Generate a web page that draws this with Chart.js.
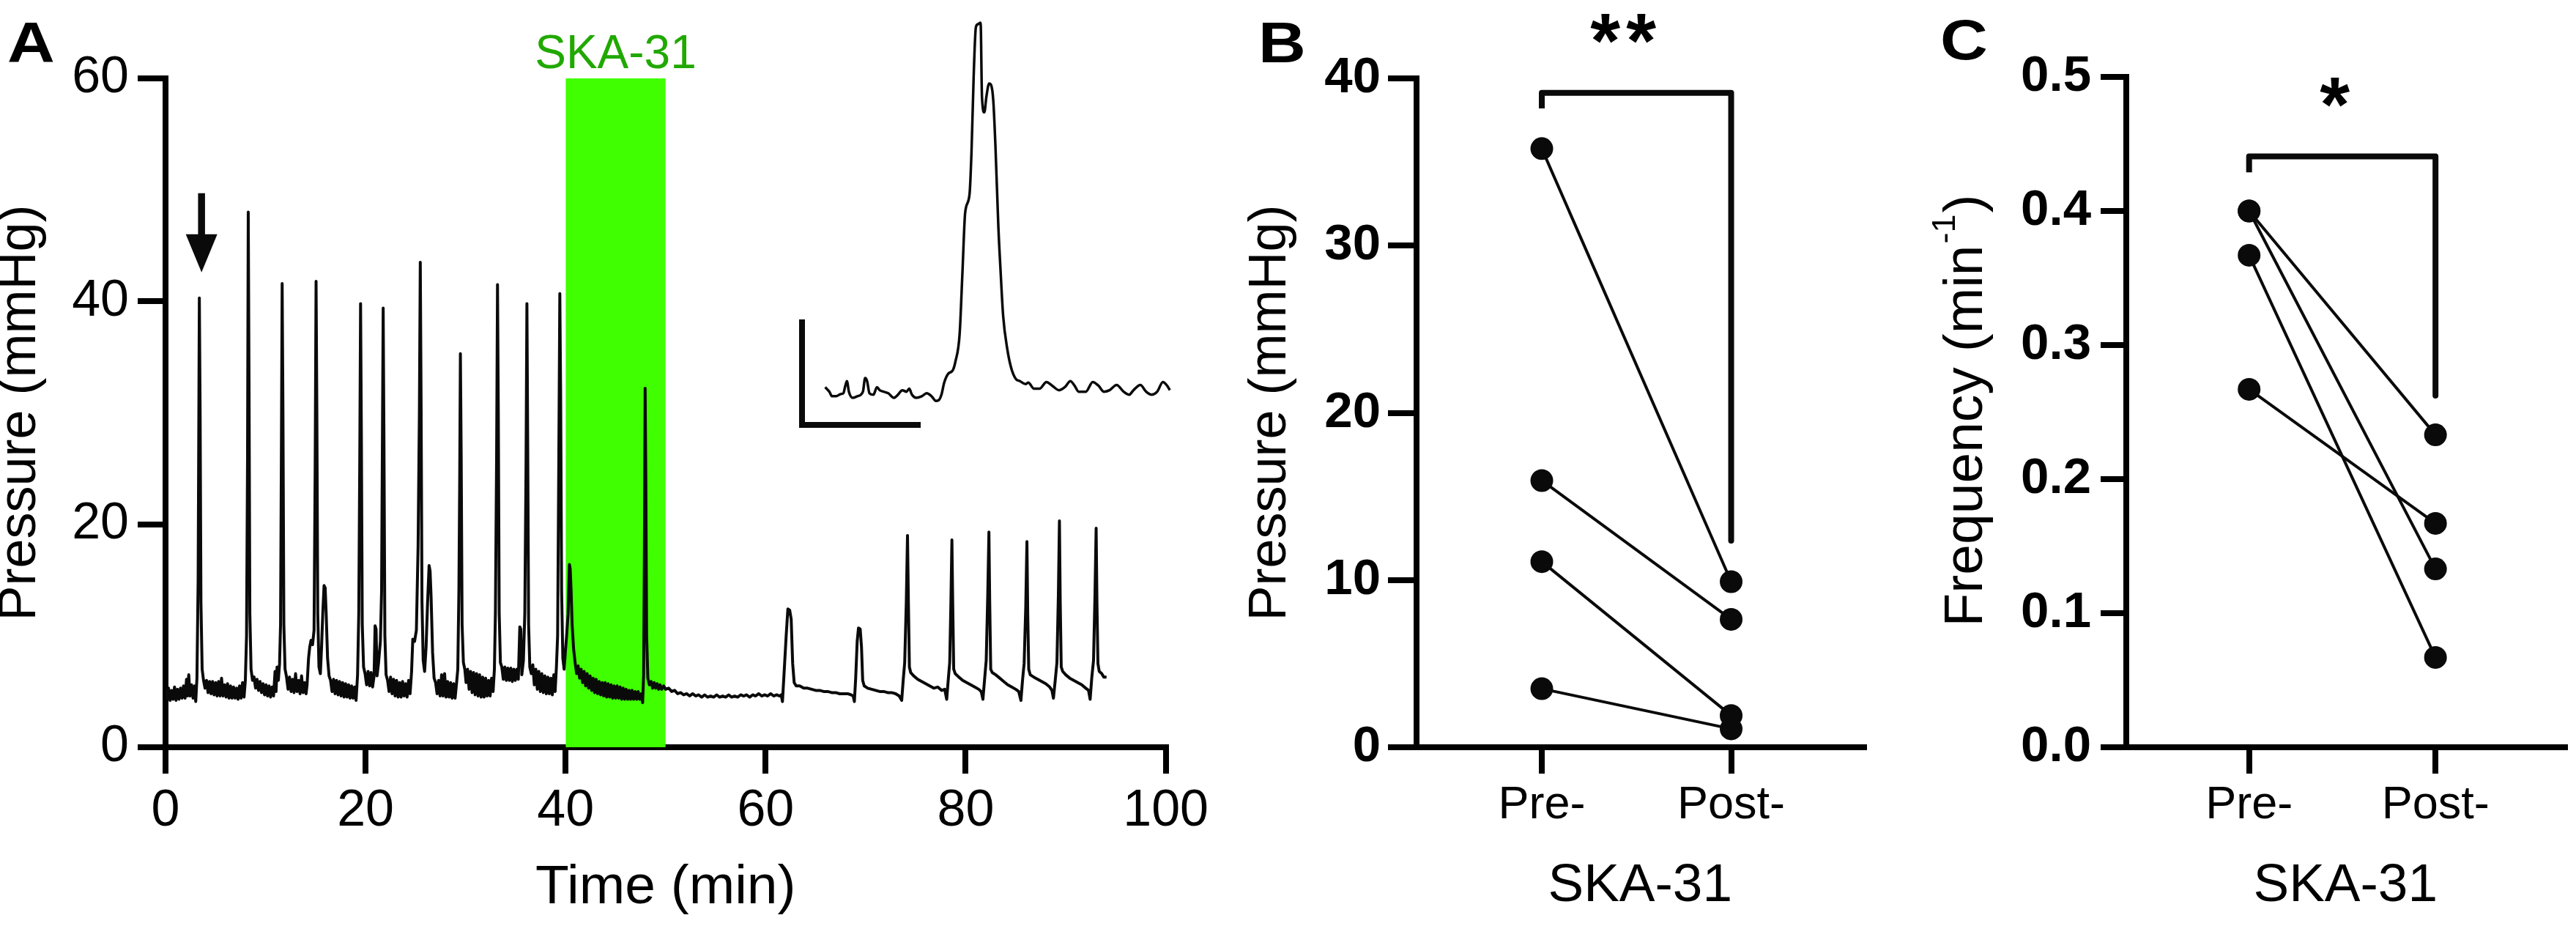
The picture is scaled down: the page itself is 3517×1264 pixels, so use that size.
<!DOCTYPE html>
<html><head><meta charset="utf-8">
<script src="https://cdn.jsdelivr.net/npm/chart.js@4/dist/chart.umd.min.js"></script>
<style>
html,body{margin:0;padding:0;background:#fff;}
#wrap{position:relative;width:3517px;height:1264px;overflow:hidden;background:#fff;}
canvas{position:absolute;}
</style></head><body>
<div id="wrap">
<canvas id="cA" width="1660" height="1264" style="left:0px;top:0px"></canvas>
<canvas id="cInset" width="530" height="584" style="left:1080px;top:16px"></canvas>
<canvas id="cB" width="910" height="1264" style="left:1650px;top:0px"></canvas>
<canvas id="cC" width="957" height="1264" style="left:2560px;top:0px"></canvas>
</div>
<script>
// ---------------- DATA ----------------
// Panel A: pressure trace [time (min), pressure (mmHg)]
const pressureTrace = [
[0,5.2],[0.15,4.3],[0.3,5.3],[0.45,4.2],[0.6,5.1],[0.75,4.3],[0.9,5.4],[1.05,4.2],[1.2,5.2],[1.35,4.3],[1.5,5.3],[1.65,4.4],[1.8,5.5],[1.95,4.4],[2.1,6.1],[2.2,4.6],[2.32,6.5],[2.45,4.6],[2.6,5.6],[2.75,4.4],[2.9,5.5],[3.02,4.1],
[3.14,6.2],[3.26,15],[3.38,40.3],[3.46,30],[3.54,13],[3.66,7.0],[3.8,6.0],
[3.95,5.3],[4.1,6.0],[4.25,4.9],[4.4,5.9],[4.55,4.8],[4.7,5.9],[4.85,4.7],[5.0,5.8],[5.15,4.6],[5.3,5.9],[5.45,4.6],[5.6,6.2],[5.75,4.6],[5.9,5.6],[6.05,4.5],[6.2,5.7],[6.35,4.4],[6.5,5.5],[6.65,4.4],[6.8,5.4],[6.95,4.4],[7.1,5.3],[7.25,4.3],[7.4,5.5],[7.55,4.4],[7.7,5.8],[7.85,4.5],
[7.98,6.0],[8.1,10],[8.2,26],[8.27,48.0],[8.35,32],[8.43,12],[8.55,7.0],[8.7,6.0],
[8.85,6.3],[9.0,5.3],[9.15,6.1],[9.3,5.1],[9.45,5.9],[9.6,4.9],[9.75,5.7],[9.9,4.7],[10.05,5.6],[10.2,4.6],[10.35,5.5],[10.5,4.5],[10.65,5.4],[10.8,4.6],[10.95,6.8],[11.05,5.0],[11.15,7.2],[11.28,6.0],
[11.4,7.5],[11.5,11],[11.58,26],[11.66,41.6],[11.74,30],[11.83,11],[11.95,7.0],[12.1,6.3],
[12.25,5.2],[12.4,6.3],[12.55,5.0],[12.7,6.1],[12.85,4.9],[13.0,6.6],[13.15,5.0],[13.3,6.0],[13.45,4.8],[13.6,6.4],[13.75,4.9],[13.9,5.8],[14.05,4.8],[14.15,5.6],[14.3,8.0],[14.42,9.0],[14.55,9.6],[14.7,9.2],
[14.85,10.5],[14.96,25],[15.05,41.8],[15.13,30],[15.22,12],[15.34,7.2],[15.48,6.6],[15.6,9],[15.72,12],[15.85,14.5],[15.96,14.3],[16.06,12],[16.2,8],[16.35,6.4],[16.5,6.0],
[16.65,5.0],[16.8,6.1],[16.95,4.8],[17.1,6.0],[17.25,4.7],[17.4,5.9],[17.55,4.6],[17.7,5.8],[17.85,4.5],[18.0,5.7],[18.15,4.5],[18.3,5.6],[18.45,4.4],[18.6,5.5],[18.75,4.4],[18.9,5.4],[19.05,4.2],
[19.2,6.5],[19.32,12],[19.42,26],[19.5,39.8],[19.58,28],[19.67,11],[19.8,7.2],[19.95,6.6],
[20.1,5.6],[20.25,6.8],[20.4,5.5],[20.55,6.7],[20.7,5.4],[20.85,6.4],[20.95,10.9],[21.05,10.6],[21.15,6.4],[21.3,7.6],
[21.48,9.5],[21.6,14],[21.68,27],[21.76,39.4],[21.84,27],[21.93,10],[22.05,6.5],[22.2,6.0],
[22.35,5.0],[22.5,6.3],[22.65,4.8],[22.8,6.1],[22.95,4.6],[23.1,6.0],[23.25,4.5],[23.4,5.8],[23.55,4.5],[23.7,5.9],[23.85,4.6],[24.0,5.7],[24.15,4.5],[24.3,6.0],[24.45,4.8],[24.6,6.8],[24.72,9.7],[24.9,9.5],
[25.08,10.5],[25.25,18],[25.38,30],[25.47,43.5],[25.55,31],[25.64,13],[25.76,7.8],[25.9,6.8],[26.05,9],[26.2,13],[26.35,16.3],[26.45,15.8],[26.55,13.5],[26.7,8.5],[26.85,6.2],[27.0,5.8],
[27.15,4.8],[27.3,6.0],[27.45,4.6],[27.6,6.5],[27.75,4.6],[27.9,6.6],[28.05,4.5],[28.2,5.9],[28.35,4.5],[28.5,5.8],[28.65,4.4],[28.8,5.7],[28.95,4.4],[29.1,5.8],
[29.22,7.0],[29.33,14],[29.41,24],[29.48,35.3],[29.56,26],[29.65,11],[29.78,7.6],[29.92,7.0],
[30.05,5.8],[30.2,7.0],[30.35,5.2],[30.5,6.8],[30.65,4.9],[30.8,6.7],[30.95,4.7],[31.1,6.6],[31.25,4.6],[31.4,6.5],[31.55,4.5],[31.7,6.3],[31.85,4.5],[32.0,6.2],[32.15,4.6],[32.3,6.0],[32.45,4.6],[32.6,6.2],[32.75,5.0],
[32.88,7.0],[32.98,12],[33.1,26],[33.19,41.5],[33.27,30],[33.36,12],[33.48,7.6],[33.62,7.2],
[33.77,6.1],[33.92,7.2],[34.07,6.0],[34.22,7.1],[34.37,6.0],[34.52,7.1],[34.67,5.9],[34.82,7.0],[34.97,6.0],[35.12,7.0],[35.27,6.1],[35.42,10.8],[35.52,10.6],[35.62,6.5],[35.78,7.8],
[35.92,12],[36.04,25],[36.13,39.8],[36.21,27],[36.3,11],[36.42,7.2],[36.57,6.6],
[36.72,7.4],[36.87,5.6],[37.02,7.0],[37.17,5.2],[37.32,6.8],[37.47,5.0],[37.62,6.6],[37.77,4.9],[37.92,6.4],[38.07,4.8],[38.22,6.3],[38.37,4.8],[38.52,6.2],[38.67,4.7],[38.82,6.5],[38.95,5.0],[39.08,7.2],
[39.2,10],[39.32,26],[39.42,40.7],[39.5,32],[39.6,14],[39.72,8.0],[39.85,7.0],[39.97,8.5],[40.1,10],[40.25,12],[40.38,16.4],[40.46,16.0],[40.55,14],[40.65,11],[40.8,8.8],[40.95,7.6],
[41.1,6.6],[41.25,7.3],[41.4,6.2],[41.55,7.0],[41.7,5.8],[41.85,6.8],[42.0,5.5],[42.15,6.6],[42.3,5.3],[42.45,6.4],[42.6,5.1],[42.75,6.2],[42.9,4.9],[43.05,6.1],[43.2,4.8],[43.35,5.9],[43.5,4.7],[43.65,5.8],[43.8,4.6],[43.95,5.8],[44.1,4.5],[44.25,5.7],[44.4,4.5],[44.55,5.6],[44.7,4.4],[44.85,5.5],[45.0,4.4],[45.15,5.5],[45.3,4.4],[45.45,5.4],[45.6,4.3],[45.75,5.3],[45.9,4.3],[46.05,5.2],[46.2,4.3],[46.35,5.1],[46.5,4.3],[46.65,5.1],[46.8,4.3],[46.95,5.0],[47.1,4.3],[47.25,5.0],[47.4,4.3],[47.55,4.8],[47.7,4.0],
[47.8,6.5],[47.88,18],[47.95,32.2],[48.02,24],[48.1,10],[48.22,6.2],[48.38,5.6],
[48.55,5.9],[48.7,5.3],[48.85,5.8],[49.0,5.3],[49.15,5.7],[49.3,5.2],[49.45,5.6],[49.6,5.2],[49.8,5.5],[50.0,5.2],[50.3,5.3],[50.6,5.0],[50.9,5.1],[51.2,4.8],[51.5,4.9],[51.8,4.7],[52.1,4.8],[52.4,4.6],[52.7,4.8],[53.0,4.6],[53.3,4.7],[53.6,4.5],[53.9,4.7],[54.2,4.5],[54.5,4.6],[54.8,4.5],[55.1,4.7],[55.4,4.5],[55.7,4.6],[56.0,4.5],[56.3,4.7],[56.6,4.5],[56.9,4.6],[57.2,4.5],[57.5,4.7],[57.8,4.6],[58.1,4.7],[58.4,4.5],[58.7,4.7],[59.0,4.6],[59.3,4.8],[59.6,4.6],[59.9,4.7],[60.2,4.6],[60.5,4.8],[60.8,4.6],[61.1,4.7],[61.4,4.6],
[61.55,4.7],[61.68,4.1],[61.85,6.8],[62.05,10],[62.22,12.4],[62.4,12.3],[62.55,11.5],[62.7,7.5],[62.85,5.8],[63.05,5.5],
[63.4,5.5],[63.8,5.3],[64.2,5.3],[64.6,5.2],[65.0,5.1],[65.4,5.1],[65.8,5.0],[66.2,5.0],[66.6,4.9],[67.0,4.9],[67.4,4.8],[67.8,4.8],[68.2,4.8],[68.55,4.7],
[68.75,4.6],[68.87,4.1],[69.0,6.2],[69.15,9.5],[69.28,10.7],[69.45,10.6],[69.58,9.0],[69.7,6.0],[69.85,5.5],
[70.2,5.3],[70.6,5.2],[71.0,5.1],[71.4,5.0],[71.8,5.0],[72.2,4.9],[72.6,4.9],[73.0,4.8],[73.35,4.6],[73.6,4.2],
[73.75,6.0],[73.9,7.6],[74.06,13],[74.18,19.0],[74.27,13],[74.37,7.2],[74.5,6.7],
[74.8,6.4],[75.2,6.1],[75.6,5.9],[76.0,5.7],[76.4,5.5],[76.8,5.3],[77.2,5.4],[77.6,5.1],[77.9,5.2],[78.1,4.3],
[78.25,6.0],[78.4,7.6],[78.52,13],[78.62,18.6],[78.7,13],[78.8,7.0],[78.95,6.6],
[79.3,6.3],[79.7,6.0],[80.1,5.8],[80.5,5.6],[80.9,5.4],[81.3,5.2],[81.55,5.0],[81.72,4.3],
[81.88,6.0],[82.05,7.8],[82.2,13.5],[82.32,19.3],[82.4,13],[82.5,7.0],[82.65,6.7],
[83.0,6.5],[83.4,6.2],[83.8,5.9],[84.2,5.6],[84.6,5.4],[85.0,5.2],[85.3,5.0],[85.52,4.2],
[85.68,6.0],[85.84,7.5],[86.0,12.5],[86.12,18.45],[86.2,12],[86.3,7.0],[86.45,6.5],
[86.8,6.3],[87.2,6.1],[87.6,5.9],[88.0,5.7],[88.4,5.4],[88.62,5.1],[88.77,4.4],
[88.95,6.0],[89.12,7.6],[89.26,13.5],[89.37,20.3],[89.45,13],[89.55,7.2],[89.7,6.8],
[90.0,6.5],[90.4,6.2],[90.8,6.0],[91.2,5.8],[91.6,5.6],[92.0,5.3],[92.28,5.1],[92.44,4.3],
[92.6,6.2],[92.78,7.8],[92.92,13.5],[93.04,19.65],[93.12,13],[93.22,7.5],[93.35,6.8],[93.6,6.6],[93.8,6.3],[94.08,6.3]
];
const skaStart = 40, skaEnd = 50;          // drug application window (min)
const arrowTime = 3.6, arrowTop = 49.7, arrowTip = 42.6; // arrow marking the enlarged contraction
const timeTicksA = [0, 20, 40, 60, 80, 100];
const pressureTicksA = [0, 20, 40, 60];

// Inset: one contraction [time (s), pressure (mmHg)]
const insetTrace = [
[11.7,3.58],[13.8,3.15],[15.2,2.72],[17.3,2.72],[19.5,2.92],[20.9,3.0],[21.9,3.72],[22.7,4.15],[23.7,3.15],[25.6,2.57],[28.0,2.72],[30.8,3.15],[31.9,4.44],[32.9,4.15],[34.1,3.0],[36.1,2.86],[37.9,3.58],[39.3,3.29],[41.2,3.15],[43.6,3.0],[46.4,2.57],[48.5,2.86],[50.7,3.29],[52.8,3.15],[54.2,3.43],[55.6,2.86],[57.7,2.57],[60.6,2.72],[63.0,3.0],[65.5,2.72],[67.7,2.28],[69.1,2.34],[70.5,2.86],[71.9,4.01],[74.0,4.87],[76.2,5.16],[77.6,6.03],[79.7,8.62],[81.1,14.37],[82.5,20.13],[84.7,21.86],[85.7,25.89],[86.8,33.08],[87.9,37.69],[88.9,37.98],[90.3,38.12],[91.0,31.07],[92.2,29.63],[93.2,31.07],[94.6,32.36],[95.6,32.22],[96.7,30.78],[97.8,26.46],[99.3,18.69],[100.3,14.95],[101.7,10.34],[103.8,7.18],[105.9,5.31],[108.1,4.36],[110.2,4.15],[113.0,3.87],[114.4,4.01],[117.3,3.43],[120.1,3.43],[123.6,4.07],[126.5,3.72],[130.0,3.29],[132.9,3.58],[135.7,4.15],[137.8,3.72],[139.9,3.15],[143.5,3.15],[147.0,4.07],[149.9,3.72],[152.7,3.15],[155.5,3.29],[159.1,3.78],[162.6,3.15],[165.4,2.86],[167.6,3.29],[171.1,3.78],[174.0,3.15],[176.8,2.86],[179.6,3.15],[182.5,4.07],[184.6,3.72],[186.0,3.29]
];
const scaleBarSec = 60, scaleBarMmHg = 10;

// Panels B and C: paired values per preparation
const groupLabels = ['Pre-', 'Post-'];
const groupPositions = [1, 2];
const preB  = [35.8, 15.95, 11.1, 3.5];
const postB = [9.9, 7.65, 1.9, 1.1];
const preC  = [0.400, 0.400, 0.367, 0.267];
const postC = [0.233, 0.133, 0.067, 0.167];
const sigB = '**', sigC = '*';
const bracketB = {left: 38.2, top: 39.13, right: 12.36};
const bracketC = {left: 0.4288, top: 0.4407, right: 0.2623};

// ---------------- STYLE ----------------
const FONT = "'Liberation Sans', Arial, Helvetica, sans-serif";
Chart.defaults.font.family = FONT;
Chart.defaults.color = '#000';
const INK = '#0a0a0a';

function axisGrid(len){ return {display:true, drawOnChartArea:false, drawTicks:true, tickLength:len, tickWidth:8, lineWidth:8, color:'#000', tickColor:'#000'}; }
const axisBorder = {display:true, width:8, color:'#000'};

function drawLetter(ctx, t, x, base){
  ctx.save(); ctx.translate(x, base); ctx.scale(1.15, 1);
  ctx.font = `bold 78px ${FONT}`; ctx.fillStyle = '#000'; ctx.textAlign = 'left'; ctx.textBaseline = 'alphabetic';
  ctx.fillText(t, 0, 0); ctx.restore();
}
function drawSig(ctx, text, cx, cy, spacing){
  const size = 105;
  ctx.save();
  ctx.font = `bold ${size}px ${FONT}`; ctx.fillStyle = '#000'; ctx.textAlign = 'center'; ctx.textBaseline = 'alphabetic';
  if ('letterSpacing' in ctx) ctx.letterSpacing = spacing + 'px';
  ctx.fillText(text, cx + spacing / 2, cy + 0.42 * size);
  ctx.restore();
}
const common = {responsive:false, animation:false, devicePixelRatio:1,
  plugins:{legend:{display:false}, tooltip:{enabled:false}}};

// ---------------- PANEL A ----------------
const annotA = {
  id:'annotA',
  afterDraw(chart){
    const {ctx, scales:{x, y}} = chart;
    ctx.save();
    const ax = x.getPixelForValue(arrowTime), yTop = y.getPixelForValue(arrowTop), yTip = y.getPixelForValue(arrowTip);
    const headLen = 52, headHalf = 21.5, shaft = 9.5;
    ctx.fillStyle = INK;
    ctx.fillRect(ax - shaft/2, yTop, shaft, (yTip - headLen) - yTop + 1);
    ctx.beginPath(); ctx.moveTo(ax - headHalf, yTip - headLen); ctx.lineTo(ax + headHalf, yTip - headLen); ctx.lineTo(ax, yTip); ctx.closePath(); ctx.fill();
    ctx.fillStyle = '#21a800'; ctx.font = `64px ${FONT}`; ctx.textAlign = 'center'; ctx.textBaseline = 'alphabetic';
    ctx.fillText('SKA-31', x.getPixelForValue((skaStart + skaEnd) / 2), y.getPixelForValue(pressureTicksA[pressureTicksA.length-1]) - 14);
    ctx.restore();
    drawLetter(ctx, 'A', 10, 85);
  }
};
new Chart(document.getElementById('cA'), {
  type:'line',
  data:{datasets:[
    {data: pressureTrace.map(([x, y]) => ({x, y})), borderColor:INK, borderWidth:4, pointRadius:0, borderJoinStyle:'round', tension:0, fill:false, order:0},
    {data: [{x:skaStart, y:60}, {x:skaEnd, y:60}], borderWidth:0, borderColor:'rgba(0,0,0,0)', backgroundColor:'rgb(64,255,0)', fill:'origin', pointRadius:0, order:5}
  ]},
  options:{...common,
    layout:{padding:{left:0, top:107, right:64, bottom:0}},
    scales:{
      x:{type:'linear', min:0, max:100, z:1,
        afterBuildTicks: s => { s.ticks = timeTicksA.map(v => ({value:v})); },
        ticks:{font:{size:70}, padding:10, maxRotation:0, autoSkip:false},
        grid:axisGrid(36), border:axisBorder,
        title:{display:true, text:'Time (min)', font:{size:75}, padding:{top:0, bottom:7}},
        afterFit: s => { s.height = 244; }},
      y:{type:'linear', min:0, max:60, z:1,
        afterBuildTicks: s => { s.ticks = pressureTicksA.map(v => ({value:v})); },
        ticks:{font:{size:70}, padding:12},
        grid:axisGrid(38), border:axisBorder,
        title:{display:true, text:'Pressure (mmHg)', font:{size:72}, padding:{top:-15, bottom:0}},
        afterFit: s => { s.width = 226; }}
    }
  },
  plugins:[annotA]
});

// ---------------- INSET ----------------
new Chart(document.getElementById('cInset'), {
  type:'line',
  data:{datasets:[
    {data: insetTrace.map(([x, y]) => ({x, y})), borderColor:INK, borderWidth:3.5, pointRadius:0, cubicInterpolationMode:'monotone', clip:false},
    {data: [{x:0, y:scaleBarMmHg}, {x:0, y:0}, {x:scaleBarSec, y:0}], borderColor:INK, borderWidth:8, pointRadius:0, tension:0, borderJoinStyle:'miter', borderCapStyle:'butt', clip:false}
  ]},
  options:{...common,
    layout:{padding:0},
    scales:{
      x:{type:'linear', display:false, min:-5.556, max:190.74},
      y:{type:'linear', display:false, min:-1.389, max:39.17}
    }
  }
});

// ---------------- PANELS B & C ----------------
function pairedDatasets(pre, post){
  return pre.map((v, i) => ({
    data:[{x:groupPositions[0], y:v}, {x:groupPositions[1], y:post[i]}],
    borderColor:INK, borderWidth:4, pointRadius:15.5, pointBackgroundColor:INK, pointBorderWidth:0, clip:false, tension:0
  }));
}
function bracketDataset(b){
  return {data:[{x:groupPositions[0], y:b.left}, {x:groupPositions[0], y:b.top}, {x:groupPositions[1], y:b.top}, {x:groupPositions[1], y:b.right}],
    borderColor:INK, borderWidth:8, pointRadius:0, tension:0, borderJoinStyle:'round', borderCapStyle:'butt', clip:false};
}
function xGroupScale(min, max){
  return {type:'linear', min, max,
    afterBuildTicks: s => { s.ticks = groupPositions.map(v => ({value:v})); },
    ticks:{callback:(v, i) => groupLabels[i], font:{size:63}, padding:6, maxRotation:0, autoSkip:false},
    grid:axisGrid(36), border:axisBorder,
    title:{display:true, text:'SKA-31', font:{size:73}, padding:{top:0, bottom:10}},
    afterFit: s => { s.height = 244; }};
}

new Chart(document.getElementById('cB'), {
  type:'line',
  data:{datasets:[...pairedDatasets(preB, postB), bracketDataset(bracketB)]},
  options:{...common,
    layout:{padding:{left:0, top:107, right:12, bottom:0}},
    scales:{
      x:xGroupScale(0.3385, 2.70),
      y:{type:'linear', min:0, max:40,
        ticks:{stepSize:10, font:{size:69, weight:'bold'}, padding:10},
        grid:axisGrid(39), border:axisBorder,
        title:{display:true, text:'Pressure (mmHg)', font:{size:72}, padding:{top:42, bottom:0}},
        afterFit: s => { s.width = 284; }}
    }
  },
  plugins:[{id:'annotB', afterDraw(chart){
    const {ctx, scales:{x, y}} = chart;
    drawSig(ctx, sigB, x.getPixelForValue(1.43), y.getPixelForValue(42.6), 8);
    drawLetter(ctx, 'B', 68, 85);
  }}]
});

new Chart(document.getElementById('cC'), {
  type:'line',
  data:{datasets:[...pairedDatasets(preC, postC), bracketDataset(bracketC)]},
  options:{...common,
    layout:{padding:{left:0, top:105, right:0, bottom:0}},
    scales:{
      x:xGroupScale(0.341, 2.693),
      y:{type:'linear', min:0, max:0.5,
        ticks:{stepSize:0.1, font:{size:69, weight:'bold'}, padding:13, callback:v => Number(v).toFixed(1)},
        grid:axisGrid(35), border:axisBorder,
        title:{display:false},
        afterFit: s => { s.width = 343; }}
    }
  },
  plugins:[{id:'annotC', afterDraw(chart){
    const {ctx, scales:{x, y}} = chart;
    drawSig(ctx, sigC, x.getPixelForValue(1.46), y.getPixelForValue(0.4835), 0);
    drawLetter(ctx, 'C', 89, 81);
    // y-axis title with superscript
    ctx.save();
    ctx.translate(y.left + 125.5, (y.top + y.bottom) / 2);
    ctx.rotate(-Math.PI / 2);
    ctx.fillStyle = '#000'; ctx.textBaseline = 'middle'; ctx.textAlign = 'left';
    const main = 'Frequency (min', sup = '-1', close = ')';
    ctx.font = `75px ${FONT}`; const w1 = ctx.measureText(main).width, w3 = ctx.measureText(close).width;
    ctx.font = `45px ${FONT}`; const w2 = ctx.measureText(sup).width;
    const x0 = -(w1 + w2 + w3) / 2;
    ctx.font = `75px ${FONT}`; ctx.fillText(main, x0, 0);
    ctx.font = `45px ${FONT}`; ctx.fillText(sup, x0 + w1 + 2, -29);
    ctx.font = `75px ${FONT}`; ctx.fillText(close, x0 + w1 + w2 + 4, 0);
    ctx.restore();
  }}]
});
</script>
</body></html>
